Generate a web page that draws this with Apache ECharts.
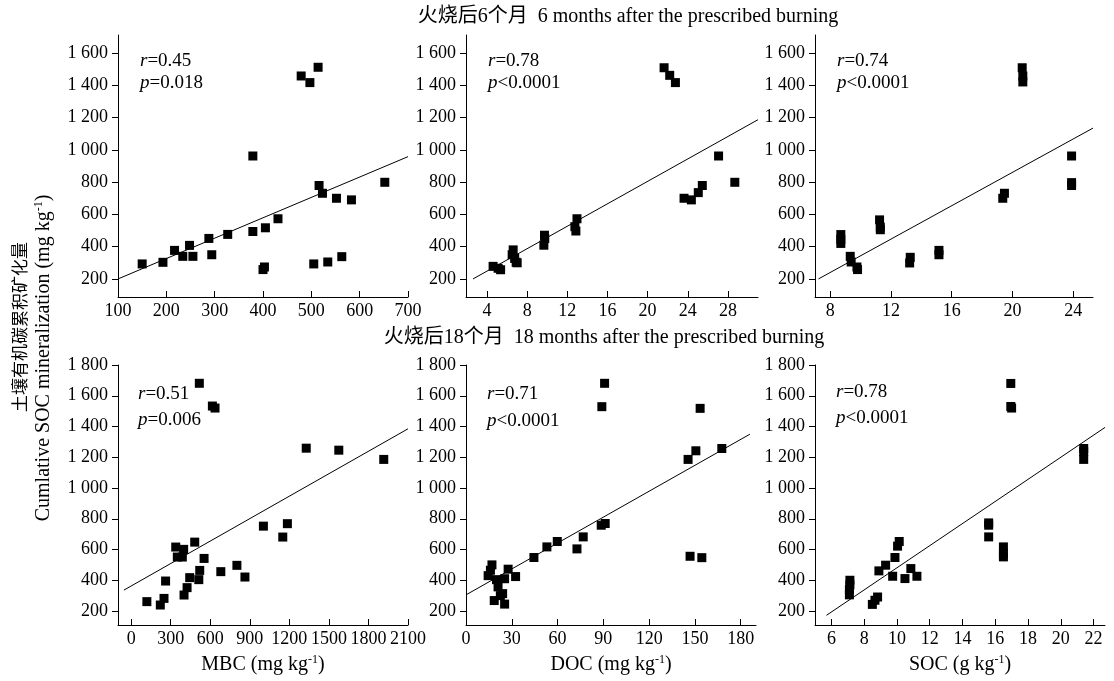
<!DOCTYPE html>
<html>
<head>
<meta charset="utf-8">
<title>土壤有机碳累积矿化量</title>
<script src="https://cdn.jsdelivr.net/npm/echarts@6/dist/echarts.min.js"></script>
<style>
	html, body { margin: 0; padding: 0; background: #fff; }
	#chart { width: 1114px; height: 681px; }
</style>
</head>
<body>
<div id="chart"></div>
<script>
// 数据：每个点 [x, 累积矿化量]
// 火烧后6个月
var mbc6 = [[150, 293], [193, 303], [217, 377], [234, 340], [248, 408], [255, 340], [288, 451], [294, 350], [327, 476], [379, 962], [379, 494], [400, 258], [403, 274], [405, 517], [431, 573], [479, 1458], [497, 1417], [514, 1512], [505, 293], [516, 779], [523, 731], [534, 305], [552, 700], [563, 338], [583, 690], [652, 799]];
var doc6 = [[4.6, 278], [5.1, 266], [5.35, 257], [6.6, 380], [6.5, 350], [6.75, 327], [6.9, 303], [7.0, 300], [9.66, 409], [9.72, 471], [9.75, 450], [12.75, 524], [12.85, 497], [12.96, 573], [21.64, 1509], [22.2, 1462], [22.77, 1417], [23.63, 700], [24.36, 690], [25.05, 735], [25.45, 779], [27.07, 962], [28.69, 799]];
var soc6 = [[8.7, 475], [8.7, 445], [8.7, 420], [9.32, 340], [9.38, 305], [9.76, 274], [9.8, 258], [11.25, 566], [11.3, 521], [11.3, 505], [13.23, 299], [13.27, 334], [15.16, 377], [15.16, 350], [19.36, 700], [19.47, 731], [20.64, 1509], [20.68, 1458], [20.68, 1421], [23.89, 962], [23.89, 797], [23.89, 779]];
// 火烧后18个月
var mbc18 = [[119, 261], [221, 239], [249, 282], [261, 395], [338, 616], [350, 551], [388, 551], [398, 601], [401, 304], [424, 352], [444, 417], [482, 648], [513, 404], [520, 464], [553, 542], [517, 1681], [616, 1533], [636, 1520], [680, 456], [802, 497], [863, 421], [1003, 752], [1150, 681], [1185, 768], [1328, 1259], [1575, 1246], [1916, 1186]];
var doc18 = [[14.5, 430], [16, 465], [17, 500], [18.5, 268], [20, 404], [21, 357], [22.5, 300], [24, 313], [25.3, 410], [25.3, 245], [27.6, 472], [32.5, 424], [44.5, 548], [53, 617], [59.8, 652], [72.7, 604], [76.8, 682], [88.6, 758], [91.2, 769], [89, 1529], [90.8, 1681], [145.5, 1186], [150.6, 1242], [153.4, 1518], [146.8, 556], [154.5, 547], [167.6, 1257]];
var soc18 = [[7.13, 400], [7.13, 370], [7.1, 340], [7.1, 305], [8.5, 243], [8.66, 270], [8.82, 291], [8.9, 461], [9.31, 498], [9.74, 426], [9.88, 548], [10.04, 622], [10.14, 652], [10.49, 411], [10.85, 476], [11.22, 426], [15.6, 773], [15.6, 758], [15.6, 682], [16.5, 617], [16.5, 573], [16.5, 552], [16.95, 1680], [16.95, 1530], [17.0, 1520], [21.4, 1257], [21.4, 1236], [21.4, 1186]];

// 回归线两端点
var fit1 = [[100, 200], [700, 958]];
var fit2 = [[2.6, 200], [31, 1187]];
var fit3 = [[7.23, 200], [25.3, 1135]];
var fit4 = [[-55, 336], [2100, 1385]];
var fit5 = [[0, 305], [186, 1350]];
var fit6 = [[5.7, 172], [22.7, 1394]];

// 相关系数文字
var rText = ['0.45', '0.78', '0.74', '0.51', '0.71', '0.78'];
var pText = ['=0.018', '<0.0001', '<0.0001', '=0.006', '<0.0001', '<0.0001'];

// 刻度
var yTicksTop = [200, 400, 600, 800, 1000, 1200, 1400, 1600];
var yTicksBottom = [200, 400, 600, 800, 1000, 1200, 1400, 1600, 1800];
var xTicks1 = [100, 200, 300, 400, 500, 600, 700];
var xTicks2 = [4, 8, 12, 16, 20, 24, 28];
var xTicks3 = [8, 12, 16, 20, 24];
var xTicks4 = [0, 300, 600, 900, 1200, 1500, 1800, 2100];
var xTicks5 = [0, 30, 60, 90, 120, 150, 180];
var xTicks6 = [6, 8, 10, 12, 14, 16, 18, 20, 22];

var serif = "'Liberation Serif', 'Times New Roman', serif";
var cjk = "'Liberation Serif', 'Noto Sans CJK SC', serif";
var tickFont = 18;

(function () {
	var myChart = echarts.init(document.getElementById('chart'));

	// 子图位置
	var grids = [
		{ left: 118, top: 35, width: 290, height: 262 },
		{ left: 466, top: 35, width: 292, height: 262 },
		{ left: 815, top: 35, width: 278, height: 262 },
		{ left: 118, top: 365, width: 290, height: 260 },
		{ left: 466, top: 365, width: 290, height: 260 },
		{ left: 815, top: 365, width: 290, height: 260 }
	];
	grids.forEach(function (g) {
		g.outerBoundsMode = 'none';
	});

	// 纵轴：千位加空格
	function fmt(v) {
		if (v >= 1000) {
			var rest = String(v % 1000);
			while (rest.length < 3) rest = '0' + rest;
			return Math.floor(v / 1000) + ' ' + rest;
		}
		return String(v);
	}

	function xAxis(i, min, max, ticks, name) {
		return {
			type: 'value',
			gridIndex: i,
			min: min,
			max: max,
			name: name || '',
			nameLocation: 'middle',
			nameGap: 29,
			nameTextStyle: {
				color: '#000',
				fontFamily: serif,
				fontSize: 20,
				lineHeight: 22,
				rich: {
					sup: { fontSize: 12, fontFamily: serif, color: '#000', verticalAlign: 'top', lineHeight: 22 }
				}
			},
			splitLine: { show: false },
			axisLine: { onZero: false, lineStyle: { color: '#000', width: 1 } },
			axisTick: { inside: true, length: 6, customValues: ticks, lineStyle: { color: '#000' } },
			axisLabel: {
				customValues: ticks,
				color: '#000',
				fontFamily: serif,
				fontSize: tickFont,
				margin: 5,
				formatter: function (v) { return String(v); }
			}
		};
	}

	function yAxis(i, min, max, ticks) {
		return {
			type: 'value',
			gridIndex: i,
			min: min,
			max: max,
			splitLine: { show: false },
			axisLine: { show: true, onZero: false, lineStyle: { color: '#000', width: 1 } },
			axisTick: { show: true, length: 6, customValues: ticks, lineStyle: { color: '#000' } },
			axisLabel: {
				customValues: ticks,
				color: '#000',
				fontFamily: serif,
				fontSize: tickFont,
				margin: 10,
				formatter: fmt
			}
		};
	}

	var pointSets = [mbc6, doc6, soc6, mbc18, doc18, soc18];
	var fits = [fit1, fit2, fit3, fit4, fit5, fit6];
	var series = [];
	pointSets.forEach(function (pts, i) {
		series.push({
			type: 'scatter',
			xAxisIndex: i,
			yAxisIndex: i,
			symbol: 'rect',
			symbolSize: 9,
			itemStyle: { color: '#000', opacity: 1 },
			data: pts,
			z: 3
		});
		series.push({
			type: 'line',
			xAxisIndex: i,
			yAxisIndex: i,
			showSymbol: false,
			lineStyle: { color: '#000', width: 1 },
			data: fits[i],
			z: 2
		});
	});

	// r、p 文字的位置
	var notePos = [[140, 61], [488, 61], [837, 61], [138, 394], [487, 394], [836, 392]];
	var rowGap = [22, 22, 22, 26, 27, 26];
	var graphics = [];
	notePos.forEach(function (p, i) {
		graphics.push({
			type: 'text',
			x: p[0],
			y: p[1],
			style: {
				text: '{i|r}=' + rText[i],
				fill: '#000',
				fontFamily: serif,
				fontSize: 19,
				textVerticalAlign: 'middle',
				verticalAlign: 'middle',
				rich: { i: { fontStyle: 'italic', fontFamily: serif, fontSize: 19 } }
			}
		});
		graphics.push({
			type: 'text',
			x: p[0],
			y: p[1] + rowGap[i],
			style: {
				text: '{i|p}' + pText[i],
				fill: '#000',
				fontFamily: serif,
				fontSize: 19,
				textVerticalAlign: 'middle',
				verticalAlign: 'middle',
				rich: { i: { fontStyle: 'italic', fontFamily: serif, fontSize: 19 } }
			}
		});
	});

	// 小标题
	graphics.push({
		type: 'text', x: 628, y: 17,
		style: { text: '火烧后6个月  6 months after the prescribed burning', fill: '#000', fontFamily: cjk, fontSize: 20, textAlign: 'center', align: 'center', textVerticalAlign: 'middle', verticalAlign: 'middle' }
	});
	graphics.push({
		type: 'text', x: 604, y: 338,
		style: { text: '火烧后18个月  18 months after the prescribed burning', fill: '#000', fontFamily: cjk, fontSize: 20, textAlign: 'center', align: 'center', textVerticalAlign: 'middle', verticalAlign: 'middle' }
	});
	// 纵轴标题
	graphics.push({
		type: 'text', x: 20, y: 327, rotation: Math.PI / 2,
		style: { text: '土壤有机碳累积矿化量', fill: '#000', fontFamily: "'Noto Sans CJK SC'", fontSize: 17, textAlign: 'center', align: 'center', textVerticalAlign: 'middle', verticalAlign: 'middle' }
	});
	graphics.push({
		type: 'text', x: 44, y: 358, rotation: Math.PI / 2,
		style: {
			text: 'Cumlative SOC mineralization (mg kg{sup|-1})', fill: '#000', fontFamily: serif, fontSize: 20, lineHeight: 22,
			textAlign: 'center', align: 'center', textVerticalAlign: 'middle', verticalAlign: 'middle',
			rich: { sup: { fontSize: 12, fontFamily: serif, verticalAlign: 'top', lineHeight: 22 } }
		}
	});

	var option = {
		backgroundColor: '#fff',
		animation: false,
		grid: grids,
		xAxis: [
			xAxis(0, 100, 700, xTicks1),
			xAxis(1, 1.9, 31, xTicks2),
			xAxis(2, 7, 25.3, xTicks3),
			xAxis(3, -100, 2100, xTicks4, 'MBC (mg kg{sup|-1})'),
			xAxis(4, 0, 190, xTicks5, 'DOC (mg kg{sup|-1})'),
			xAxis(5, 5, 22.7, xTicks6, 'SOC (g kg{sup|-1})')
		],
		yAxis: [
			yAxis(0, 88, 1712, yTicksTop),
			yAxis(1, 88, 1712, yTicksTop),
			yAxis(2, 88, 1712, yTicksTop),
			yAxis(3, 109, 1800, yTicksBottom),
			yAxis(4, 109, 1800, yTicksBottom),
			yAxis(5, 109, 1800, yTicksBottom)
		],
		series: series,
		graphic: graphics
	};
	myChart.setOption(option);
})();
</script>
</body>
</html>
